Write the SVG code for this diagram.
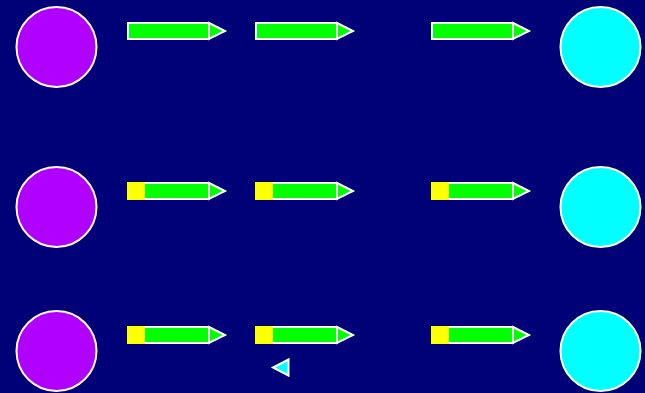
<svg xmlns="http://www.w3.org/2000/svg" width="645" height="393" viewBox="0 0 645 393">
<style>
.src{fill:#b000ff;stroke:#fff;stroke-width:2}
.dst{fill:#00ffff;stroke:#fff;stroke-width:2}
.body{fill:#00ff00;stroke:#fff;stroke-width:2}
.head{fill:#00ff00;stroke:#fff;stroke-width:2;stroke-linejoin:miter}
.tail{fill:#ffff00}
.tri{fill:#00ffff;stroke:#fff;stroke-width:2}
</style>
<defs>
<g id="arrow">
<rect class="body" x="0" y="-8" width="81" height="16"/>
<polygon class="head" points="81,-8 97,0 81,8"/>
</g>
<g id="arrowY">
<rect class="body" x="0" y="-8" width="81" height="16"/>
<rect class="tail" x="-1" y="-9" width="18" height="18"/>
<polygon class="head" points="81,-8 97,0 81,8"/>
</g>
</defs>
<rect width="645" height="393" fill="#000077"/>
<g id="s1"><circle class="src" cx="56.5" cy="47" r="40"/></g>
<g id="s2"><circle class="src" cx="56.5" cy="207" r="40"/></g>
<g id="s3"><circle class="src" cx="56.5" cy="351" r="40"/></g>
<g id="d1"><circle class="dst" cx="600.5" cy="47" r="40"/></g>
<g id="d2"><circle class="dst" cx="600.5" cy="207" r="40"/></g>
<g id="d3"><circle class="dst" cx="600.5" cy="351" r="40"/></g>
<g id="connectors">
<use href="#arrow" x="128" y="31"/>
<use href="#arrow" x="256" y="31"/>
<use href="#arrow" x="432" y="31"/>
<use href="#arrowY" x="128" y="191"/>
<use href="#arrowY" x="256" y="191"/>
<use href="#arrowY" x="432" y="191"/>
<use href="#arrowY" x="128" y="335"/>
<use href="#arrowY" x="256" y="335"/>
<use href="#arrowY" x="432" y="335"/>
<polygon class="tri" points="288.5,359.5 288.5,375.5 273,367.5"/>
</g>
</svg>
